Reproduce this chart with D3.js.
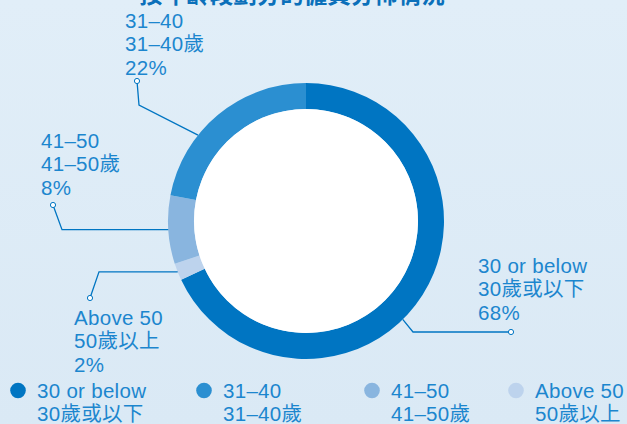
<!DOCTYPE html>
<meta charset="utf-8">
<script src="https://d3js.org/d3.v7.min.js"></script>
<style>
  body { margin: 0; }
  svg { display: block; }
  text { font-family: "Liberation Sans", Arial, "Noto Sans CJK TC", sans-serif; }
</style>
<body>
<div id="chart"></div>
<script>
// data
var categories = ["30 or below", "31–40", "41–50", "Above 50"];
var categoriesZh = ["30歲或以下", "31–40歲", "41–50歲", "50歲以上"];
var values = [68, 22, 8, 2];
var colors = ["#0075c2", "#2b8fd1", "#89b5df", "#bdd3ed"];
var ringOrder = [0, 3, 2, 1]; // clockwise from 12 o'clock
var title = "按年齡段劃分的僱員分佈情況";

var W = 627, H = 424;
var cx = 306, cy = 221, R = 138, r = 112;
var textColor = "#1c86ce", lineColor = "#0075c2";

// label placement: text block origin, elbow, end dot, anchor angle on ring (null = slice middle)
var labelLayout = [
  {x: 478, y: 273, dot: [511, 332], elbow: [413, 332], angle: 135.5},
  {x: 125, y: 28,  dot: [137, 81],  elbow: [139, 105], angle: 308.5},
  {x: 41,  y: 148, dot: [53, 205],  elbow: [62, null], angle: null},
  {x: 74,  y: 325, dot: [90, 298],  elbow: [99, null], angle: null}
];
var legendX = [18, 204, 372, 516];

var svg = d3.select("#chart").append("svg").attr("width", W).attr("height", H);

var grad = svg.append("defs").append("linearGradient")
  .attr("id", "bg").attr("x1", 0).attr("y1", 0).attr("x2", 0).attr("y2", 1);
grad.append("stop").attr("offset", "0%").attr("stop-color", "#e1eef8");
grad.append("stop").attr("offset", "100%").attr("stop-color", "#dae9f5");
svg.append("rect").attr("width", W).attr("height", H).attr("fill", "url(#bg)");

// title sits mostly above the frame, as in the source crop
svg.append("text").attr("x", 292).attr("y", 3)
  .attr("text-anchor", "middle").attr("font-size", 23.5).attr("font-weight", "bold")
  .attr("fill", "#0b70ba").text(title);

var pie = d3.pie().sort(null).value(function(i){ return values[i]; });
var arcs = pie(ringOrder);
var arc = d3.arc().innerRadius(r).outerRadius(R);

var g = svg.append("g").attr("transform", "translate(" + cx + "," + cy + ")");

function ringPoint(deg) {
  var a = deg * Math.PI / 180;
  return [cx + R * Math.sin(a), cy - R * Math.cos(a)];
}

// leader lines + labels
arcs.forEach(function(d) {
  var i = d.data, L = labelLayout[i];
  var deg = L.angle != null ? L.angle : (d.startAngle + d.endAngle) / 2 * 180 / Math.PI;
  var p = ringPoint(deg);
  var ey = L.elbow[1] != null ? L.elbow[1] : p[1];
  svg.append("polyline")
    .attr("points", [L.dot, [L.elbow[0], ey], p].map(function(q){ return q.join(","); }).join(" "))
    .attr("fill", "none").attr("stroke", lineColor).attr("stroke-width", 1.3);
  svg.append("circle").attr("cx", L.dot[0]).attr("cy", L.dot[1]).attr("r", 2.6)
    .attr("fill", "#fff").attr("stroke", lineColor).attr("stroke-width", 1);
  var t = svg.append("text").attr("x", L.x).attr("y", L.y)
    .attr("font-size", 20.5).attr("letter-spacing", 0.3).attr("fill", textColor);
  [categories[i], categoriesZh[i], values[i] + "%"].forEach(function(s, k) {
    t.append("tspan").attr("x", L.x).attr("y", L.y + [0, 22.5, 47][k]).text(s);
  });
});

g.selectAll("path").data(arcs).enter().append("path")
  .attr("d", arc).attr("fill", function(d){ return colors[d.data]; });
g.append("circle").attr("r", r).attr("fill", "#fff");

// legend
categories.forEach(function(c, i) {
  var lg = svg.append("g");
  lg.append("circle").attr("cx", legendX[i]).attr("cy", 390.5).attr("r", 7.8).attr("fill", colors[i]);
  var t = lg.append("text").attr("font-size", 20.5).attr("letter-spacing", 0.3).attr("fill", textColor);
  t.append("tspan").attr("x", legendX[i] + 19).attr("y", 397.5).text(c);
  t.append("tspan").attr("x", legendX[i] + 19).attr("y", 421).text(categoriesZh[i]);
});
</script>
</body>
